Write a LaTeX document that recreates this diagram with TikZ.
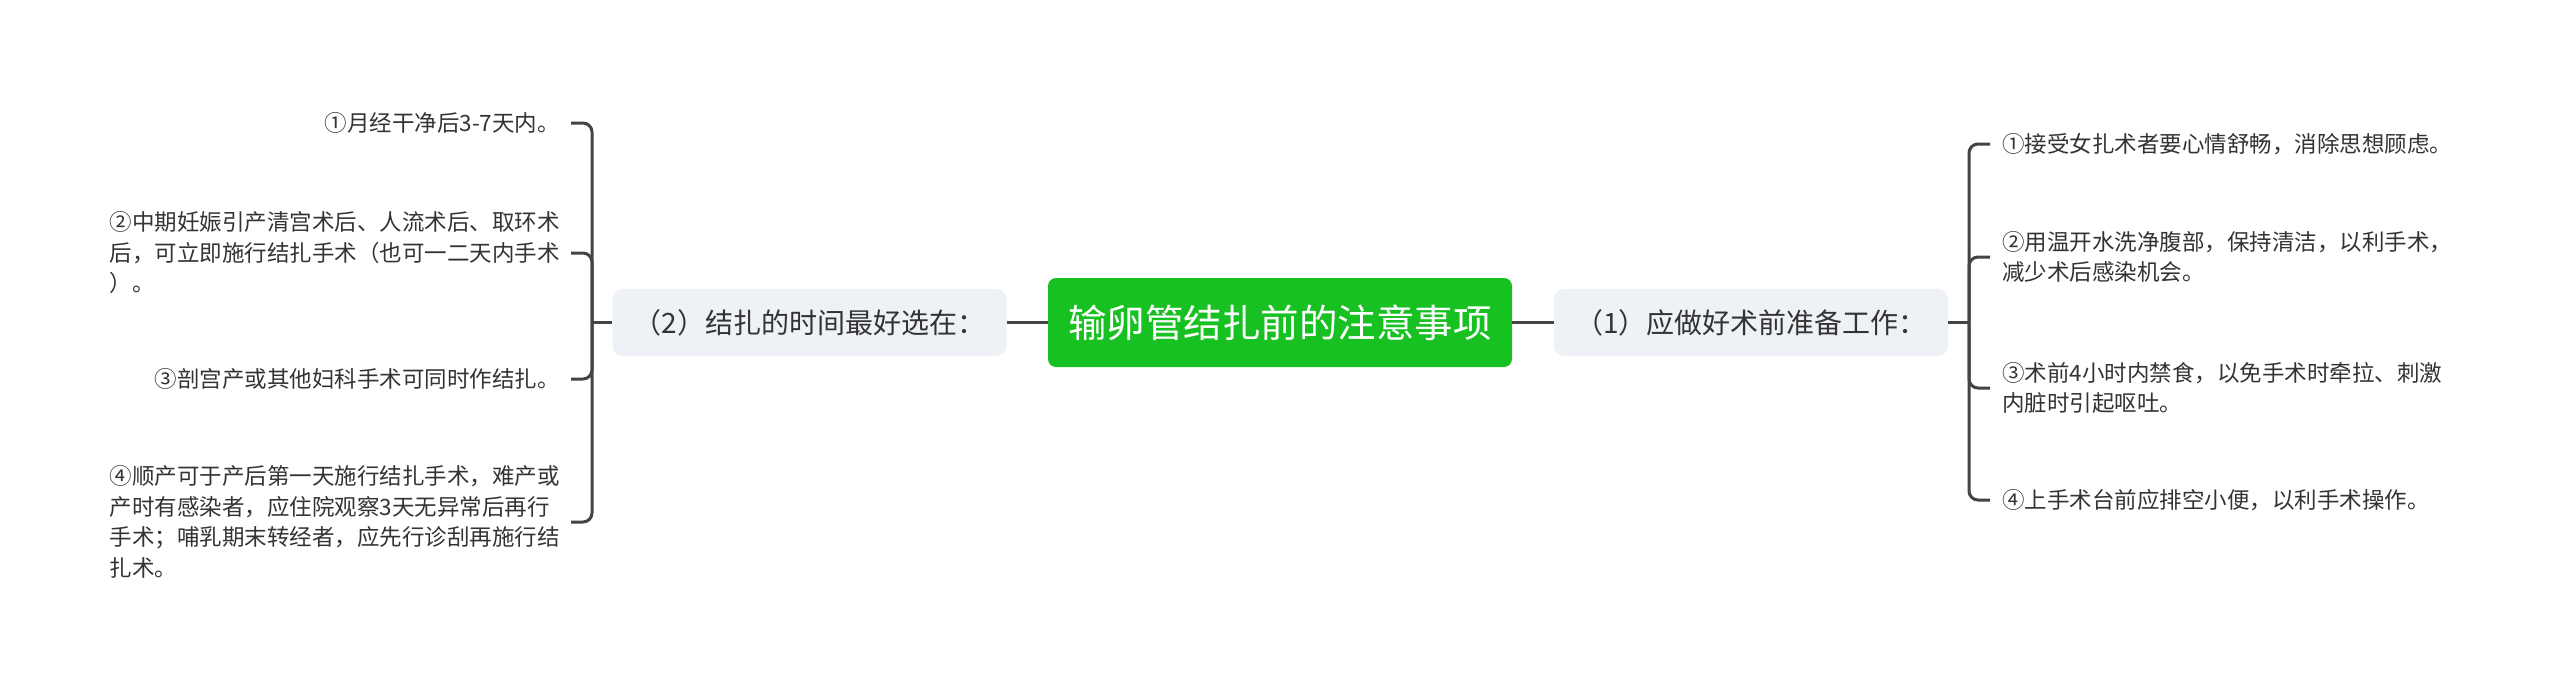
\documentclass[tikz,border=0pt]{standalone}
\usepackage{fontspec}
\setmainfont{Noto Sans CJK SC}
\definecolor{lineC}{RGB}{68,68,68}
\definecolor{rootG}{RGB}{24,193,34}
\definecolor{subF}{RGB}{238,241,245}
\definecolor{txt}{RGB}{51,51,51}
\begin{document}
\begin{tikzpicture}[x=1pt,y=-1pt,
  conn/.style={draw=lineC,line width=3pt,rounded corners=9pt},
  rootbox/.style={fill=rootG,rounded corners=8pt,minimum width=464pt,minimum height=89pt,text=white,font=\fontsize{38.5}{46}\selectfont,inner sep=0pt},
  subbox/.style={fill=subF,rounded corners=10pt,minimum width=394pt,minimum height=67pt,text=txt,font=\fontsize{28}{33}\selectfont,inner sep=0pt},
  leafR/.style={anchor=west,align=left,inner xsep=12pt,inner ysep=0pt,text=txt,font=\fontsize{22.5}{30.5}\selectfont},
  leafL/.style={anchor=east,align=left,inner xsep=11pt,inner ysep=0pt,text=txt,font=\fontsize{22.5}{30.5}\selectfont}]
\useasboundingbox (0,0) rectangle (2560,689);
\node[rootbox] (root) at (1280,322.5) {输卵管结扎前的注意事项};
\node[subbox] (s1) at (1751,322.5) {（1）应做好术前准备工作：};
\node[subbox] (s2) at (809.5,322.5) {（2）结扎的时间最好选在：};
\coordinate (rj) at (1969,322.5);
\coordinate (lj) at (592,322.5);
\node[leafR] (r1) at (1990,144) {①接受女扎术者要心情舒畅，消除思想顾虑。};
\node[leafR] (r2) at (1990,257) {②用温开水洗净腹部，保持清洁，以利手术，\\减少术后感染机会。};
\node[leafR] (r3) at (1990,388) {③术前4小时内禁食，以免手术时牵拉、刺激\\内脏时引起呕吐。};
\node[leafR] (r4) at (1990,500) {④上手术台前应排空小便，以利手术操作。};
\node[leafL] (l1) at (571,123) {①月经干净后3-7天内。};
\node[leafL] (l2) at (571,253) {②中期妊娠引产清宫术后、人流术后、取环术\\后，可立即施行结扎手术（也可一二天内手术\\）。};
\node[leafL] (l3) at (571,379) {③剖宫产或其他妇科手术可同时作结扎。};
\node[leafL] (l4) at (571,522) {④顺产可于产后第一天施行结扎手术，难产或\\产时有感染者，应住院观察3天无异常后再行\\手术；哺乳期末转经者，应先行诊刮再施行结\\扎术。};
\draw[conn] (root.east) -- (s1.west);
\draw[conn] (root.west) -- (s2.east);
\draw[conn] (s1.east) -- (rj);
\draw[conn] (s2.west) -- (lj);
\foreach \n in {r1,r2,r3,r4} \draw[conn] (rj) |- (\n.west);
\foreach \n in {l1,l2,l3,l4} \draw[conn] (lj) |- (\n.east);
\end{tikzpicture}
\end{document}
